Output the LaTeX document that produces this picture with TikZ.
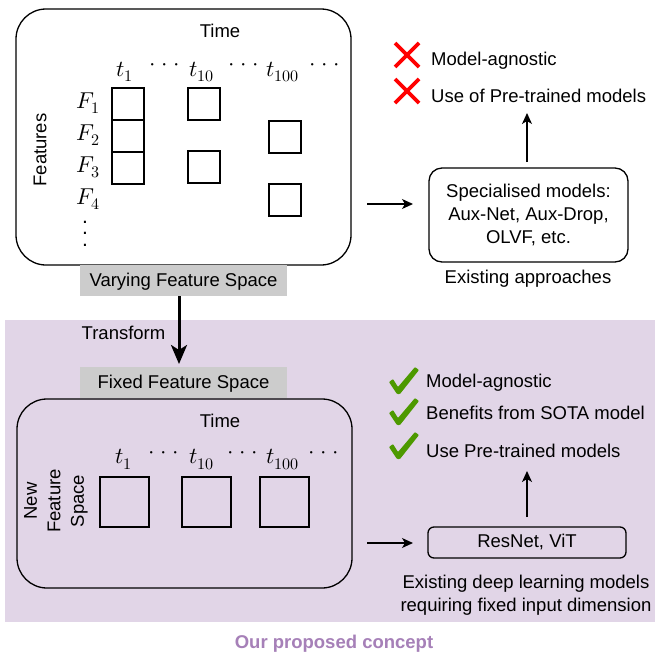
\documentclass[tikz,border=0pt]{standalone}
\usepackage{fontspec}
\usepackage{unicode-math}
\setmainfont{Liberation Sans}
\setmathfont{Latin Modern Math}
\usetikzlibrary{arrows.meta}

\definecolor{bandpurple}{HTML}{E1D5E7}
\definecolor{titlepurple}{HTML}{A680B8}
\definecolor{okgreen}{HTML}{4D9900}
\definecolor{tagfill}{HTML}{CCCCCC}

% horizontal ellipsis with wider spacing than \cdots
\newcommand\hdotsrow{${\cdot}\kern5.5pt{\cdot}\kern5.5pt{\cdot}$}
% vertical ellipsis built from three periods
\newcommand\vdotscol{\vbox{\offinterlineskip\hbox{.}\kern9.3pt\hbox{.}\kern9.3pt\hbox{.}}}

\tikzset{
  txt/.style={font=\fontsize{18.5}{23.3}\selectfont, inner sep=0pt},
  mlbl/.style={font=\fontsize{23}{27}\selectfont, inner sep=0pt, anchor=base},
  dotsrow/.style={font=\fontsize{23}{27}\selectfont, inner sep=0pt},
  panel/.style={draw, line width=1.3pt, rounded corners=30pt, inner sep=0pt},
  cell/.style={draw, line width=1.3pt, inner sep=0pt, minimum width=32pt, minimum height=32pt},
  bigcell/.style={draw, line width=1.3pt, inner sep=0pt, minimum width=49pt, minimum height=50pt},
  tag/.style={fill=tagfill, inner sep=0pt, minimum width=207pt, minimum height=31pt},
  modelbox/.style={draw, line width=1.3pt, inner sep=0pt, align=center, font=\fontsize{18.5}{23.3}\selectfont},
  arr/.style={line width=1.3pt, -{Stealth[length=11pt, width=10pt, inset=3pt]}},
  bigarr/.style={line width=3pt, -{Stealth[length=19pt, width=16pt, inset=5pt]}},
  crossmark/.pic={\draw[red, line width=3.6pt] (-12,-12) -- (12,12) (-12,12) -- (12,-12);},
  checkmark/.pic={\fill[okgreen, rounded corners=0.8pt] (0,15) -- (4,12) -- (9,20) -- (26,0) -- (30,3) -- (11,27) -- (8,27) -- cycle;}
}

\begin{document}
\begin{tikzpicture}[x=1pt, y=-1pt]
  \useasboundingbox (0,0) rectangle (659,654);
  \fill[white] (0,0) rectangle (659,654);

  % shaded region of the proposed concept
  \fill[bandpurple] (5,320) rectangle (655,622);
  \node[font=\bfseries\fontsize{18.5}{23.3}\selectfont, text=titlepurple, inner sep=0pt, anchor=base] (concept) at (334,648) {Our proposed concept};

  % ---------- varying feature space ----------
  \node[panel, minimum width=335pt, minimum height=256pt] (vpanel) at (183.5,137) {};
  \node[txt, anchor=base] (vtime) at (220,37.5) {Time};
  \node[txt, rotate=90] (vfeat) at (40,150) {Features};

  \node[mlbl] (vt1) at (125,76) {$t_1$};
  \node[mlbl] (vt10) at (202,76) {$t_{10}$};
  \node[mlbl] (vt100) at (283,76) {$t_{100}$};
  \node[dotsrow] (vd1) at (165,67) {\hdotsrow};
  \node[dotsrow] (vd2) at (244,67) {\hdotsrow};
  \node[dotsrow] (vd3) at (325,67) {\hdotsrow};

  \node[mlbl] (f1) at (88.5,108) {$F_1$};
  \node[mlbl] (f2) at (88.5,140) {$F_2$};
  \node[mlbl] (f3) at (88.5,172) {$F_3$};
  \node[mlbl] (f4) at (88.5,204) {$F_4$};
  \node[inner sep=0pt, font=\fontsize{21}{25}\selectfont] (fdots) at (85,233.5) {\vdotscol};

  \node[cell] (c11) at (128,104) {};
  \node[cell] (c12) at (128,136) {};
  \node[cell] (c13) at (128,168) {};
  \node[cell] (c21) at (204,104) {};
  \node[cell] (c23) at (204,167) {};
  \node[cell] (c32) at (285,137) {};
  \node[cell] (c34) at (285,200) {};

  \node[tag] (vtag) at (183.5,280.5) {};
  \node[txt, anchor=base] (vtagtxt) at (183.5,286) {Varying Feature Space};

  % ---------- existing approaches ----------
  \node[modelbox, rounded corners=13pt, minimum width=199pt, minimum height=94pt] (spec) at (528.5,215)
    {Specialised models:\\Aux-Net, Aux-Drop,\\OLVF, etc.};
  \node[txt, anchor=base] (exist) at (528,283) {Existing approaches};
  \coordinate (a1s) at (367,204);
  \coordinate (a1e) at (413,204);
  \draw[arr] (a1s) -- (a1e);
  \coordinate (u1s) at (527,162);
  \coordinate (u1e) at (527,113);
  \draw[arr] (u1s) -- (u1e);

  \pic at (407,55) {crossmark};
  \pic at (407,91) {crossmark};
  \node[txt, anchor=base west] (neg1) at (431,65.3) {Model-agnostic};
  \node[txt, anchor=base west] (neg2) at (431,102.7) {Use of Pre-trained models};

  % ---------- transformation ----------
  \coordinate (ts) at (179,296);
  \coordinate (te) at (179,364);
  \draw[bigarr] (ts) -- (te);
  \node[txt, anchor=base] (transform) at (123.5,339) {Transform};

  \node[tag] (ftag) at (183.5,382.5) {};
  \node[txt, anchor=base] (ftagtxt) at (183.5,388) {Fixed Feature Space};

  % ---------- fixed feature space ----------
  \node[panel, minimum width=335pt, minimum height=189pt] (fpanel) at (184.5,493.5) {};
  \node[txt, anchor=base] (ftime) at (220,427) {Time};
  \node[txt, rotate=90, align=center, font=\fontsize{18.5}{23.5}\selectfont] (newfs) at (56,501) {New\\Feature\\Space};

  \node[mlbl] (ft1) at (124,463.5) {$t_1$};
  \node[mlbl] (ft10) at (202,463.5) {$t_{10}$};
  \node[mlbl] (ft100) at (283,463.5) {$t_{100}$};
  \node[dotsrow] (fd1) at (164,455) {\hdotsrow};
  \node[dotsrow] (fd2) at (243,455) {\hdotsrow};
  \node[dotsrow] (fd3) at (324,455) {\hdotsrow};

  \node[bigcell] (b1) at (124.5,502) {};
  \node[bigcell] (b2) at (206.5,502) {};
  \node[bigcell] (b3) at (284.5,502) {};

  % ---------- deep learning models ----------
  \node[modelbox, rounded corners=6pt, minimum width=198pt, minimum height=31pt] (resnet) at (527,542.5) {};
  \node[txt, anchor=base] (resnettxt) at (527,547.7) {ResNet, ViT};
  \node[txt, align=center] (deep) at (526,595) {Existing deep learning models\\requiring fixed input dimension};
  \coordinate (a2s) at (367,543);
  \coordinate (a2e) at (413,543);
  \draw[arr] (a2s) -- (a2e);
  \coordinate (u2s) at (527,517);
  \coordinate (u2e) at (527,471);
  \draw[arr] (u2s) -- (u2e);

  \pic at (389,367) {checkmark};
  \pic at (389,398) {checkmark};
  \pic at (389,432) {checkmark};
  \node[txt, anchor=base west] (pos1) at (426,387) {Model-agnostic};
  \node[txt, anchor=base west] (pos2) at (426,419) {Benefits from SOTA model};
  \node[txt, anchor=base west] (pos3) at (426,457) {Use Pre-trained models};
\end{tikzpicture}
\end{document}
